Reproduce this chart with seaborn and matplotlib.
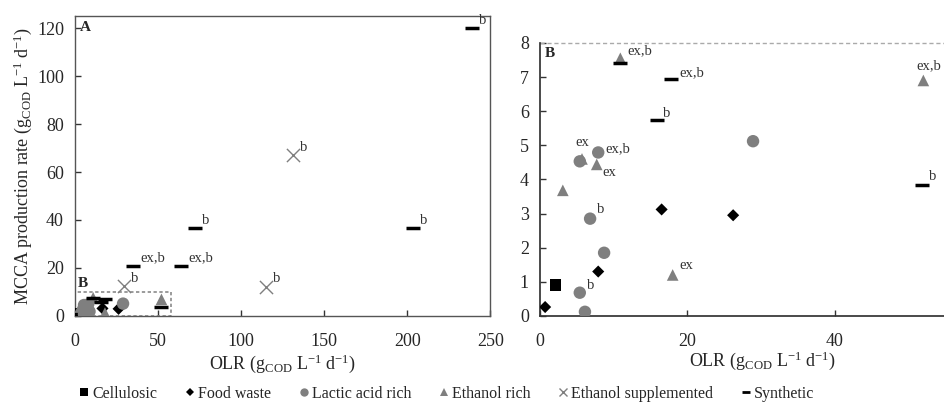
import matplotlib
matplotlib.use("Agg")
import matplotlib.pyplot as plt
import pandas as pd
import seaborn as sns
from matplotlib.lines import Line2D
from matplotlib.patches import Rectangle

sns.set_theme(style="white")
plt.rcParams["font.family"] = ["Liberation Serif", "DejaVu Serif"]
plt.rcParams["mathtext.fontset"] = "custom"
plt.rcParams["mathtext.rm"] = "Liberation Serif"
plt.rcParams["mathtext.it"] = "Liberation Serif"

# --- data (OLR, production rate) per substrate group ---
cellulosic_x = [2.1]
cellulosic_y = [0.9]
food_x = [0.7, 7.9, 16.5, 26.2]
food_y = [0.26, 1.3, 3.12, 2.95]
lactic_x = [5.4, 6.1, 6.8, 8.7, 5.4, 7.9, 28.9]
lactic_y = [0.68, 0.12, 2.85, 1.85, 4.53, 4.79, 5.12]
ethanol_x = [10.9, 52.0, 5.7, 7.7, 3.1, 18.0]
ethanol_y = [7.55, 6.9, 4.6, 4.44, 3.68, 1.2]
ethsup_x = [131, 115, 29.4]
ethsup_y = [67, 12.2, 12.5]
synth_x = [239, 72, 203.6, 35, 64, 17.8, 15.9, 51.8, 10.9]
synth_y = [120, 36.7, 36.7, 21, 21, 6.94, 5.74, 3.85, 7.42]

groups = ["Cellulosic", "Food waste", "Lactic acid rich", "Ethanol rich",
          "Ethanol supplemented", "Synthetic"]

# annotations: (x, y, text)
notes_a = [(239, 120, "b"), (72, 36.7, "b"), (203.6, 36.7, "b"), (35, 21, "ex,b"),
           (64, 21, "ex,b"), (131, 67, "b"), (115, 12.2, "b"), (29.4, 12.5, "b")]
notes_b = [(10.9, 7.55, "ex,b", (5, 3)), (17.8, 6.94, "ex,b", (6, 2)),
           (15.9, 5.74, "b", (4, 2)), (52.0, 6.9, "ex,b", (-5, 8)),
           (5.4, 4.6, "ex", (-3, 9)), (7.9, 4.79, "ex,b", (5, 0)),
           (7.7, 4.44, "ex", (4, -8)), (6.8, 2.85, "b", (5, 4)),
           (5.4, 0.68, "b", (5, 3)), (18.0, 1.2, "ex", (5, 4)),
           (51.8, 3.85, "b", (5, 3))]

frames = []
for g, xs, ys in zip(groups,
                     [cellulosic_x, food_x, lactic_x, ethanol_x, ethsup_x, synth_x],
                     [cellulosic_y, food_y, lactic_y, ethanol_y, ethsup_y, synth_y]):
    frames.append(pd.DataFrame({"olr": xs, "rate": ys, "group": g}))
df = pd.concat(frames, ignore_index=True)

GRAY = "#7f7f7f"
styles = {
    "Cellulosic": dict(marker="s", color="black", s=70),
    "Food waste": dict(marker="D", color="black", s=38),
    "Lactic acid rich": dict(marker="o", color=GRAY, s=80),
    "Ethanol rich": dict(marker="^", color=GRAY, s=70),
    "Ethanol supplemented": dict(marker="x", color=GRAY, s=90, linewidth=1.0),
    "Synthetic": dict(marker="_", color="black", s=90, linewidth=2.5),
}

fig = plt.figure(figsize=(9.44, 4.05), dpi=100)
ax_a = fig.add_axes([0.0795, 0.22, 0.440, 0.74])
ax_b = fig.add_axes([0.572, 0.22, 0.428, 0.674])


def draw(ax):
    for g in groups:
        sub = df[df["group"] == g]
        st = dict(styles[g])
        sns.scatterplot(data=sub, x="olr", y="rate", ax=ax, legend=False,
                        edgecolor="none" if st["marker"] not in ("x", "_") else None,
                        zorder=3, **st)


draw(ax_a)
draw(ax_b)

xlabel = r"OLR (g$_{\mathrm{COD}}$ L$^{\mathrm{-1}}$ d$^{\mathrm{-1}}$)"
ylabel = r"MCCA production rate (g$_{\mathrm{COD}}$ L$^{\mathrm{-1}}$ d$^{\mathrm{-1}}$)"

# panel A
ax_a.set_xlim(0, 250)
ax_a.set_ylim(0, 125)
ax_a.set_xticks([0, 50, 100, 150, 200, 250])
ax_a.set_yticks([0, 20, 40, 60, 80, 100, 120])
ax_a.set_xlabel(xlabel, fontsize=13, labelpad=2)
ax_a.set_ylabel(ylabel, fontsize=13, labelpad=2)
for sp in ax_a.spines.values():
    sp.set_color("#555555")
    sp.set_linewidth(1.0)
ax_a.add_patch(Rectangle((0, 0), 58, 10, fill=False, ls=(0, (2, 1.5)),
                         ec="#8a8a8a", lw=1.2, zorder=2))
ax_a.text(1.5, 12, "B", fontsize=11, fontweight="bold")
ax_a.text(0.012, 0.985, "A", transform=ax_a.transAxes, fontsize=11,
          fontweight="bold", va="top")
for x, y, t in notes_a:
    ax_a.annotate(t, (x, y), xytext=(5, 3), textcoords="offset points",
                  fontsize=10.5, color="#333333")

# panel B
ax_b.set_xlim(0, 54.8)
ax_b.set_ylim(0, 8)
ax_b.set_xticks([0, 20, 40])
ax_b.set_yticks(range(0, 9))
ax_b.set_xlabel(xlabel, fontsize=13, labelpad=0, x=0.55)
ax_b.set_ylabel("")
ax_b.spines["top"].set_visible(False)
ax_b.spines["right"].set_visible(False)
ax_b.spines["left"].set_color("#333333")
ax_b.spines["bottom"].set_color("#333333")
ax_b.axhline(8, color="#aaaaaa", ls=(0, (3, 2)), lw=1.0, clip_on=False)
ax_b.text(0.012, 0.985, "B", transform=ax_b.transAxes, fontsize=11,
          fontweight="bold", va="top")
for x, y, t, off in notes_b:
    ax_b.annotate(t, (x, y), xytext=off, textcoords="offset points",
                  fontsize=10.5, color="#333333")

for ax in (ax_a, ax_b):
    ax.tick_params(direction="in", length=4, width=1, labelsize=13,
                   color="#333333", pad=6)
    ax.tick_params(axis="y", left=True, labelleft=True, pad=8)
    ax.tick_params(axis="x", bottom=True, pad=12)

handles = []
for g in groups:
    st = styles[g]
    handles.append(Line2D([], [], ls="none", marker=st["marker"], color=st["color"],
                          markersize=6 if st["marker"] != "D" else 4.5,
                          markeredgewidth=1.0 if st["marker"] == "x" else 2.0 if st["marker"] == "_" else 0,
                          label=g))
fig.legend(handles=handles, loc="lower left", ncol=6, frameon=False,
           fontsize=11.5, bbox_to_anchor=(0.07, -0.02), handletextpad=0.05,
           columnspacing=1.6, handlelength=0.9, borderaxespad=0.3)

fig.savefig("out.png", dpi=100)
